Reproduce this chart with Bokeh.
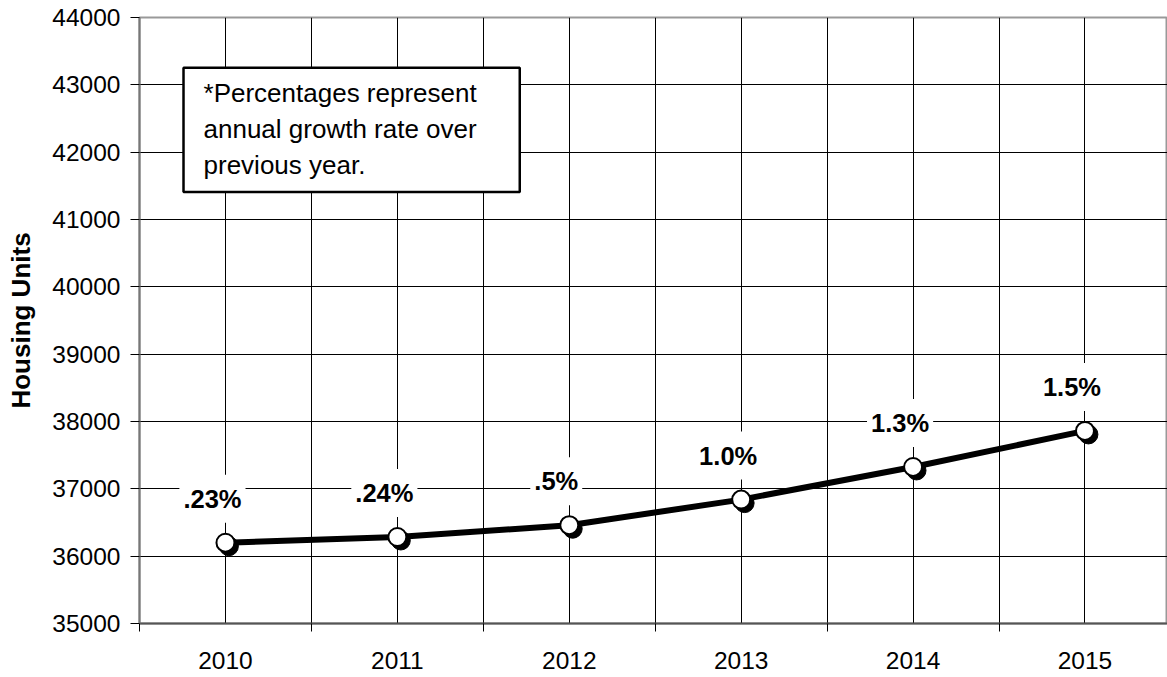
from bokeh.plotting import figure
from bokeh.models import (Range1d, FixedTicker, SingleIntervalTicker, NumeralTickFormatter,
                          ColumnDataSource, BoxAnnotation, Label)
from bokeh.transform import dodge
from bokeh.core.properties import value
from bokeh.embed import file_html
from bokeh.resources import INLINE

# ---- data ----
years = ["2010", "2011", "2012", "2013", "2014", "2015"]
housing_units = [36200, 36285, 36460, 36840, 37325, 37860]
growth_labels = [".23%", ".24%", ".5%", "1.0%", "1.3%", "1.5%"]
y_ticks_start, y_ticks_end, y_step = 35000, 44000, 1000
note_text = "*Percentages represent\nannual growth rate over\nprevious year."

FONT = "Liberation Sans"

xs = [i + 0.5 for i in range(len(years))]
src = ColumnDataSource(dict(x=xs, y=housing_units, lbl=growth_labels))

p = figure(width=1167, height=677, output_backend="svg", toolbar_location=None,
           x_range=Range1d(0, 5.98), y_range=Range1d(y_ticks_start, y_ticks_end),
           min_border_left=139, min_border_right=0, min_border_top=17, min_border_bottom=54)
p.background_fill_color = "white"
p.border_fill_color = "white"
p.outline_line_color = "#999999"
p.outline_line_width = 2

# x axis: labels at category centres, tick marks at boundaries
boundaries = list(range(len(years) + 1))
xt = FixedTicker(ticks=xs, minor_ticks=boundaries)
p.xaxis.ticker = xt
p.xaxis.major_label_overrides = {x: y for x, y in zip(xs, years)}
p.xaxis.major_tick_out = 0
p.xaxis.major_tick_in = 0
p.xaxis.minor_tick_out = 8
p.xaxis.minor_tick_in = 0
p.xaxis.major_label_standoff = 20
p.xaxis.axis_line_color = "#555555"
p.xaxis.axis_line_width = 2
p.xaxis.major_label_text_font = FONT
p.xaxis.major_label_text_font_size = "24.5px"
p.xaxis.major_label_text_color = "black"
p.xaxis.minor_tick_line_color = "black"

p.xgrid.ticker = xt
p.xgrid.grid_line_color = "black"
p.xgrid.grid_line_width = 1
p.xgrid.minor_grid_line_color = "black"
p.xgrid.minor_grid_line_width = 1

# y axis
yt = SingleIntervalTicker(interval=y_step, num_minor_ticks=0)
p.yaxis.ticker = yt
p.yaxis.formatter = NumeralTickFormatter(format="0")
p.yaxis.major_tick_out = 9
p.yaxis.major_tick_in = 0
p.yaxis.minor_tick_line_color = None
p.yaxis.major_label_standoff = 10
p.yaxis.axis_line_color = "#777777"
p.yaxis.axis_line_width = 2
p.yaxis.major_tick_line_color = "black"
p.yaxis.major_label_text_font = FONT
p.yaxis.major_label_text_font_size = "24.5px"
p.yaxis.major_label_text_color = "black"
p.yaxis.axis_label = "Housing Units"
p.yaxis.axis_label_text_font = FONT
p.yaxis.axis_label_text_font_style = "bold"
p.yaxis.axis_label_text_font_size = "26px"
p.yaxis.axis_label_text_color = "black"
p.yaxis.axis_label_standoff = 13
p.ygrid.ticker = yt
p.ygrid.grid_line_color = "black"
p.ygrid.grid_line_width = 1

# line
p.line("x", "y", source=src, line_color="black", line_width=6)

# marker shadow + markers
p.scatter(x=dodge("x", 0.02, range=p.x_range), y=dodge("y", -52, range=p.y_range), source=src,
          size=19, fill_color="black", line_color="black", line_width=1)
p.scatter("x", "y", source=src, size=18, fill_color="white", line_color="black", line_width=2)

# growth labels
p.text("x", "y", text="lbl", source=src, x_offset=-13, y_offset=-44,
       text_align="center", text_baseline="middle",
       text_font=value(FONT), text_font_style="bold", text_font_size="25.5px", text_color="black",
       background_fill_color="white", padding=dict(left=4, right=4, top=10, bottom=10))

# note box
box = BoxAnnotation(left=0.256, right=2.212, top=43255, bottom=41410,
                    fill_color="white", fill_alpha=1.0, line_color="black", line_alpha=1.0,
                    line_width=2.5)
p.add_layout(box)
note = Label(x=0.3725, y=43105, text=note_text, text_font=FONT, text_font_size="26px",
             text_color="black", text_baseline="top", text_align="left", text_line_height=1.2)
p.add_layout(note)

open("out.html", "w").write(file_html(p, INLINE))
